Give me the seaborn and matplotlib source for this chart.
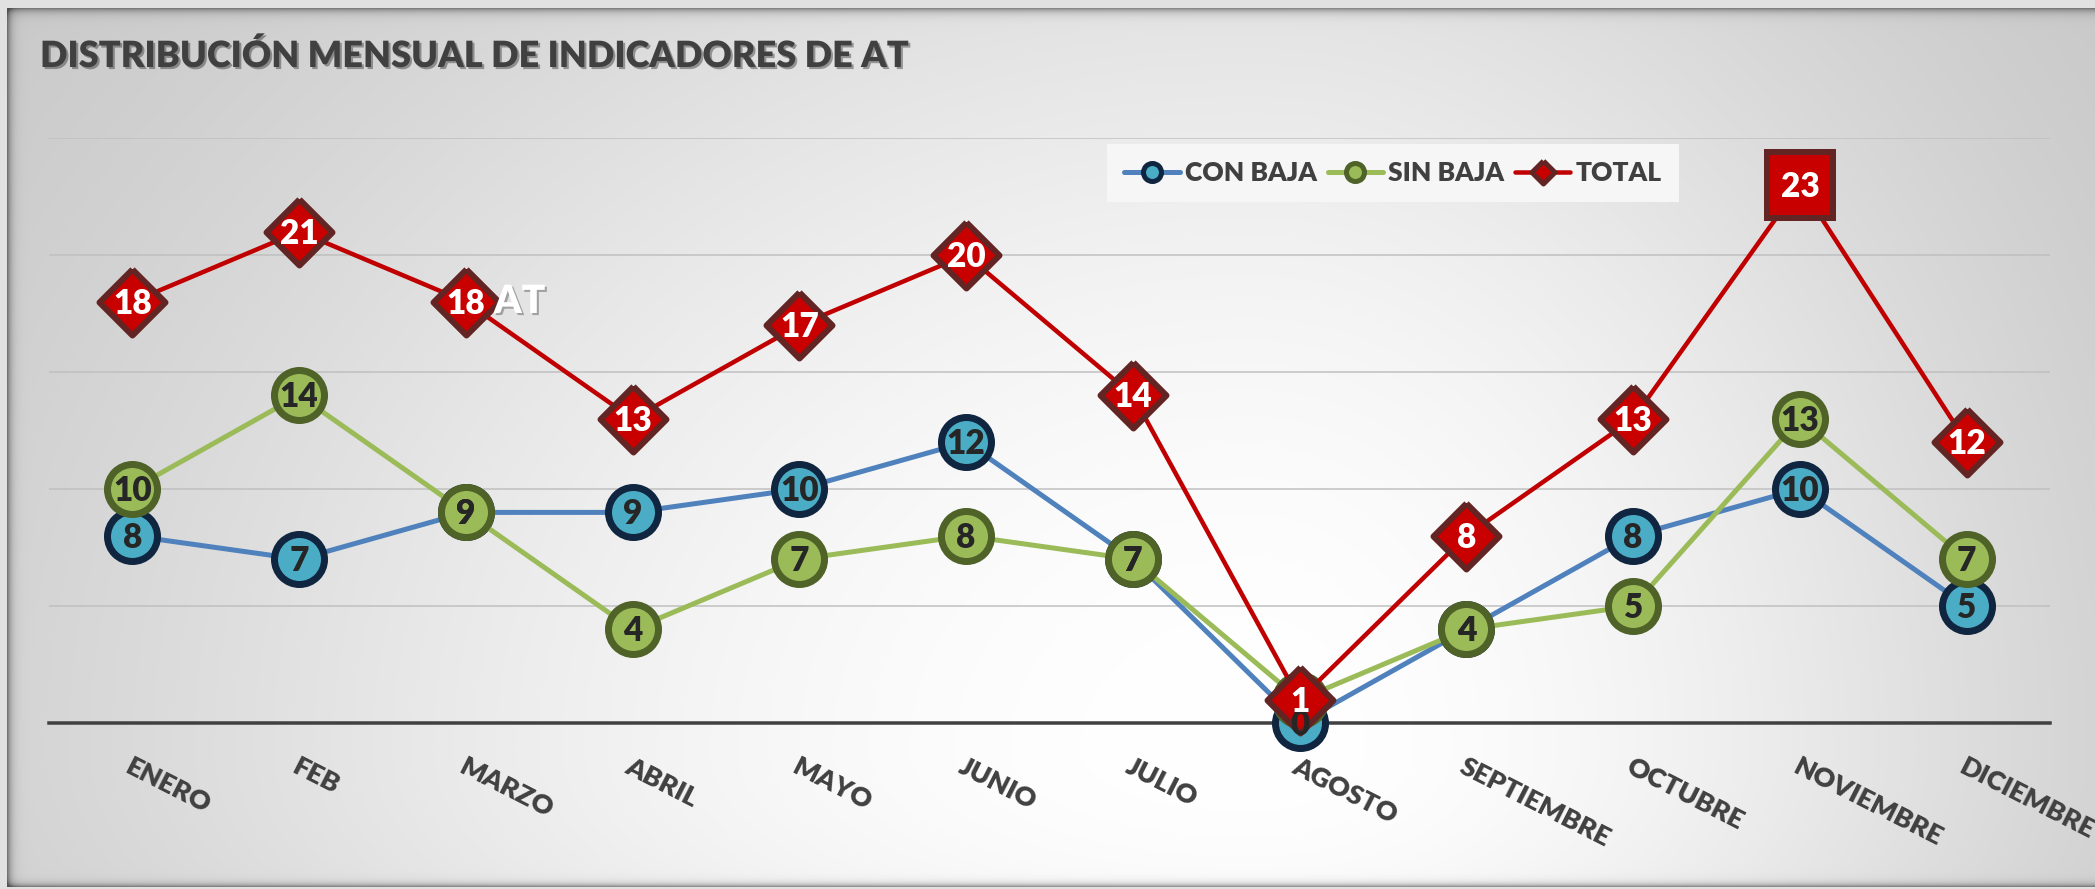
import numpy as np
import matplotlib
matplotlib.use("Agg")
import matplotlib.pyplot as plt
import matplotlib.patheffects as pe
import matplotlib.transforms as mtransforms
from matplotlib.lines import Line2D
import seaborn as sns

# ---------------- data ----------------
meses = ["ENERO", "FEB", "MARZO", "ABRIL", "MAYO", "JUNIO", "JULIO",
         "AGOSTO", "SEPTIEMBRE", "OCTUBRE", "NOVIEMBRE", "DICIEMBRE"]
con_baja = [8, 7, 9, 9, 10, 12, 7, 0, 4, 8, 10, 5]
sin_baja = [10, 14, 9, 4, 7, 8, 7, 1, 4, 5, 13, 7]
total = [18, 21, 18, 13, 17, 20, 14, 1, 8, 13, 23, 12]
series_names = ["CON BAJA", "SIN BAJA", "TOTAL"]
titulo = "DISTRIBUCIÓN MENSUAL DE INDICADORES DE AT"
y_ticks = [0, 5, 10, 15, 20, 25]

# ---------------- setup ----------------
sns.set_style("white")
FAM = ["Lato", "DejaVu Sans"]
plt.rcParams["font.family"] = FAM
WEIGHT = "heavy"

W, H, DPI = 2095, 889, 100


def px(v):
    return v * 72.0 / DPI


fig = plt.figure(figsize=(W / DPI, H / DPI), dpi=DPI)

# background: radial gray gradient panel with inner shadows
yy, xx = np.mgrid[0:H, 0:W].astype(float)
cx, cy = 1250.0, 750.0
dx = (xx - cx) / np.where(xx < cx, 1250.0, 850.0)
dy = (yy - cy) / np.where(yy < cy, 1000.0, 450.0)
r2 = dx ** 2 + dy ** 2
g = 255.0 - 60.0 * np.tanh(0.9 * r2)
x0, y0, y1 = 7, 8, 886
shade = np.zeros_like(g)
shade += 0.45 * np.exp(-np.clip(xx - x0, 0, None) / 4.0)
shade += 0.40 * np.exp(-np.clip(yy - y0, 0, None) / 4.0)
shade += 0.40 * np.exp(-np.clip(y1 - yy, 0, None) / 3.0)
g = g * (1 - np.clip(shade, 0, 0.6))
outside = (xx < x0) | (yy < y0) | (yy > y1)
g[outside] = 225.0
bg = np.repeat((g / 255.0)[:, :, None], 3, axis=2)
fig.figimage(bg, xo=0, yo=0, origin="upper", zorder=-10)

ax = fig.add_axes([49 / W, 1 - 723 / H, (2050 - 49) / W, (723 - 138) / H])
ax.set_zorder(1)
ax.patch.set_alpha(0)

x = np.arange(len(meses))
diamond = [(0, 1), (1, 0), (0, -1), (-1, 0), (0, 1)]
destacado = 10  # highlighted (square) point in TOTAL

sns.lineplot(x=x, y=con_baja, ax=ax, color="#4F81BD", linewidth=px(5),
             marker="o", markersize=px(50), markerfacecolor="#4BACC6",
             markeredgecolor="#10253F", markeredgewidth=px(7),
             clip_on=False, zorder=3, legend=False)
sns.lineplot(x=x, y=sin_baja, ax=ax, color="#9BBB59", linewidth=px(5),
             marker="o", markersize=px(50), markerfacecolor="#9BBB59",
             markeredgecolor="#4F6228", markeredgewidth=px(7),
             clip_on=False, zorder=4, legend=False)
sns.lineplot(x=x, y=total, ax=ax, color="#C00000", linewidth=px(4.5),
             marker=diamond, markersize=px(66), markerfacecolor="#C80000",
             markeredgecolor="#632523", markeredgewidth=px(6),
             markevery=[i for i in range(len(total)) if i != destacado],
             clip_on=False, zorder=5, legend=False)
sns.lineplot(x=x[destacado:destacado + 1], y=total[destacado:destacado + 1],
             ax=ax, color="#C00000", linewidth=0, marker="s",
             markersize=px(66), markerfacecolor="#C80000",
             markeredgecolor="#632523", markeredgewidth=px(6),
             clip_on=False, zorder=5, legend=False)

# data labels (baseline shifted so digits are centred on the marker)
lab_tr = mtransforms.offset_copy(ax.transData, fig=fig, x=0, y=-12, units="dots")
for vals, col, z in [(con_baja, "#262626", 6), (sin_baja, "#262626", 7),
                     (total, "white", 8)]:
    for i, v in enumerate(vals):
        ax.text(i, v, str(v), transform=lab_tr, ha="center", va="baseline",
                fontsize=24, fontweight=WEIGHT, color=col, zorder=z,
                clip_on=False)

ax.set_xlim(-0.5, len(meses) - 0.5)
ax.set_ylim(y_ticks[0], y_ticks[-1])
ax.set_yticks(y_ticks)
ax.set_yticklabels([])
ax.set_axisbelow(True)
ax.yaxis.grid(True, color="#BFBFBF", linewidth=px(1.5))
ax.xaxis.grid(False)
ax.set_xticks(x)
ax.set_xticklabels(meses, fontsize=19.5, fontweight=WEIGHT, color="#404040")
for lab in ax.get_xticklabels():
    lab.set_rotation(-27)
    lab.set_ha("left")
    lab.set_va("top")
    lab.set_rotation_mode("anchor")
ax.tick_params(axis="x", length=0, pad=px(31))
ax.tick_params(axis="y", length=0)
for s in ["top", "left", "right"]:
    ax.spines[s].set_visible(False)
ax.spines["bottom"].set_color("#404040")
ax.spines["bottom"].set_linewidth(px(3.5))
ax.set_xlabel("")
ax.set_ylabel("")

# legend
handles = [
    Line2D([], [], color="#4F81BD", linewidth=px(5), marker="o",
           markersize=px(18), markerfacecolor="#4BACC6",
           markeredgecolor="#10253F", markeredgewidth=px(5)),
    Line2D([], [], color="#9BBB59", linewidth=px(5), marker="o",
           markersize=px(18), markerfacecolor="#9BBB59",
           markeredgecolor="#4F6228", markeredgewidth=px(5)),
    Line2D([], [], color="#C00000", linewidth=px(4.5), marker=diamond,
           markersize=px(23), markerfacecolor="#C80000",
           markeredgecolor="#632523", markeredgewidth=px(5)),
]
leg = fig.legend(handles, series_names, loc="center",
                 bbox_to_anchor=(1393 / W, 1 - 173 / H), ncol=3,
                 frameon=True, facecolor="#F6F6F6", edgecolor="none",
                 fancybox=False, framealpha=1.0,
                 prop=dict(family=FAM, weight=WEIGHT, size=19),
                 labelcolor="#404040", handlelength=2.1, handletextpad=0.2,
                 columnspacing=0.4, borderpad=0.65, borderaxespad=0)
leg.set_zorder(2)

shadow = [pe.SimplePatchShadow(offset=(1.5, -1.5), shadow_rgbFace="#202020",
                               alpha=0.4), pe.Normal()]
fig.text(40 / W, 1 - 67 / H, titulo, fontsize=26, fontweight=WEIGHT,
         color="#404040", ha="left", va="baseline", path_effects=shadow)
fig.text(494 / W, 1 - 313 / H, "AT", fontsize=28, fontweight=WEIGHT,
         color="white", ha="left", va="baseline",
         path_effects=[pe.SimplePatchShadow(offset=(1.5, -1.5),
                                            shadow_rgbFace="#606060",
                                            alpha=0.5), pe.Normal()])

fig.savefig("out.png", dpi=DPI)
